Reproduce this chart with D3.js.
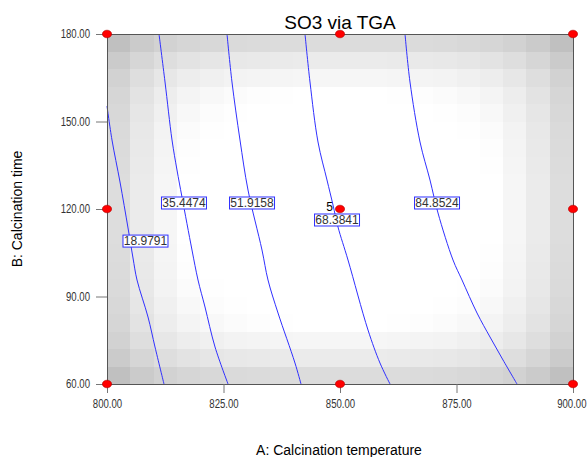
<!DOCTYPE html>
<html>
<head>
<meta charset="utf-8">
<script src="https://cdn.jsdelivr.net/npm/d3@7"></script>
<style>
  html, body { margin: 0; padding: 0; background: #fff; }
  svg { display: block; }
</style>
</head>
<body>
<svg id="chart" width="588" height="457"></svg>
<script>
// ---------- data ----------
const title = "SO3 via TGA";
const xTitle = "A: Calcination temperature";
const yTitle = "B: Calcination time";
const xDomain = [800, 900];
const yDomain = [60, 180];
const xTicks = [800, 825, 850, 875, 900];
const yTicks = [60, 90, 120, 150, 180];
const xTickLabels = ["800.00", "825.00", "850.00", "875.00", "900.00"];
const yTickLabels = ["60.00", "90.00", "120.00", "150.00", "180.00"];

// design points [A, B]
const designPoints = [
  [800, 60], [800, 120], [800, 180],
  [850, 60], [850, 120], [850, 180],
  [900, 60], [900, 120], [900, 180]
];
const centerReplicates = { A: 850, B: 120, n: "5" };

// contour levels and their traced paths [A, B]
const contourLevels = ["18.9791", "35.4474", "51.9158", "68.3841", "84.8524"];
const contour1 = [[800.0,155.3],[801.07,143.66],[802.79,129.26],[804.51,113.49],[805.58,103.2],[806.44,95.66],[808.80,82.97],[810.30,72.69],[812.23,60]];
const contour2 = [[811.16,180],[812.45,163.54],[813.95,143.66],[815.02,133.37],[816.09,124.11],[818.24,105.94],[819.53,95.66],[821.03,86.4],[823.18,72.69],[825.97,60]];
const contour3 = [[825.75,180],[826.82,163.54],[828.54,143.66],[830.26,126.51],[833.26,105.94],[834.55,95.66],[836.70,84.34],[840.34,67.2],[841.63,60]];
const contour4 = [[842.49,180],[843.56,163.54],[845.28,142.97],[847.21,129.94],[848.50,121.37],[849.57,113.83],[851.72,102.51],[856.01,78.51],[858.58,67.2],[860.73,60]];
const contour5 = [[863.95,180],[865.02,163.54],[867.17,142.97],[869.31,129.94],[871.03,118.63],[874.25,102.51],[876.18,95.66],[879.40,84.34],[882.19,76.11],[884.98,68.23],[887.98,60]];
const contourPaths = [contour1, contour2, contour3, contour4, contour5];
// label anchor for each contour [A, B]
const contourLabelAt = [[808.26,109.0],[816.52,122.06],[831.12,122.06],[849.36,116.23],[870.82,122.06]];

// standard-error shading: grey level per cell, one quadrant (edge -> centre), mirrored
const cellStepA = 5, cellStepB = 6;
const shadeQuadrant = [
  [192,203,210,214,216,218,219,220,220,220],
  [203,214,222,227,230,232,233,234,235,235],
  [210,222,231,237,240,243,244,245,246,246],
  [214,227,237,244,248,251,253,254,255,255],
  [216,230,240,248,252,254,255,255,255,255],
  [218,232,243,251,254,255,255,255,255,255],
  [219,233,244,253,255,255,255,255,255,255],
  [220,234,245,254,255,255,255,255,255,255],
  [221,235,246,255,255,255,255,255,255,255],
  [221,235,246,255,255,255,255,255,255,255]
];

// ---------- layout ----------
const plot = { left: 107, right: 573, top: 34, bottom: 384 };
const svg = d3.select("#chart");
const x = d3.scaleLinear().domain(xDomain).range([plot.left, plot.right]);
const y = d3.scaleLinear().domain(yDomain).range([plot.bottom, plot.top]);
const font = "'Liberation Sans', Arial, sans-serif";

// shading cells
const nCols = Math.round((xDomain[1] - xDomain[0]) / cellStepA);
const nRows = Math.round((yDomain[1] - yDomain[0]) / cellStepB);
const cells = [];
for (let r = 0; r < nRows; r++) {
  for (let c = 0; c < nCols; c++) {
    const qi = Math.min(r, nRows - 1 - r);
    const qj = Math.min(c, nCols - 1 - c);
    cells.push({ a0: xDomain[0] + c * cellStepA, b0: yDomain[1] - r * cellStepB, g: shadeQuadrant[qi][qj] });
  }
}
svg.append("g").attr("shape-rendering", "crispEdges")
  .selectAll("rect").data(cells).join("rect")
  .attr("x", d => x(d.a0))
  .attr("y", d => y(d.b0))
  .attr("width", d => x(d.a0 + cellStepA) - x(d.a0) + 0.5)
  .attr("height", d => y(d.b0 - cellStepB) - y(d.b0) + 0.5)
  .attr("fill", d => d3.rgb(d.g, d.g, d.g));

// contour lines
const line = d3.line().x(d => x(d[0])).y(d => y(d[1])).curve(d3.curveCatmullRom.alpha(0.5));
svg.append("g").selectAll("path").data(contourPaths).join("path")
  .attr("d", line)
  .attr("fill", "none")
  .attr("stroke", "#3030ff")
  .attr("stroke-width", 1);

// frame
svg.append("rect")
  .attr("x", plot.left).attr("y", plot.top)
  .attr("width", plot.right - plot.left).attr("height", plot.bottom - plot.top)
  .attr("fill", "none").attr("stroke", "#555").attr("stroke-width", 1)
  .attr("shape-rendering", "crispEdges");

// condensed tick-label look
function condense(sel) {
  sel.each(function() {
    const w = this.getComputedTextLength();
    d3.select(this).attr("textLength", w * 0.8).attr("lengthAdjust", "spacingAndGlyphs");
  });
}

// axes
const xAxis = d3.axisBottom(x).tickValues(xTicks).tickFormat((d, i) => xTickLabels[i]).tickSize(9).tickPadding(6);
const gx = svg.append("g").attr("transform", `translate(0,${plot.bottom})`).call(xAxis);
gx.select(".domain").remove();
gx.selectAll(".tick line").attr("stroke", "#777");
gx.selectAll(".tick text").attr("fill", "#333").style("font-family", font).style("font-size", "12px").call(condense);
// keep the last label inside the window
gx.selectAll(".tick text").filter((d, i) => i === xTicks.length - 1)
  .attr("text-anchor", "end").attr("x", 586 - x(xTicks[xTicks.length - 1]));

const yAxis = d3.axisLeft(y).tickValues(yTicks).tickFormat((d, i) => yTickLabels[i]).tickSize(11).tickPadding(6);
const gy = svg.append("g").attr("transform", `translate(${plot.left},0)`).call(yAxis);
gy.select(".domain").remove();
gy.selectAll(".tick line").attr("stroke", "#777");
gy.selectAll(".tick text").attr("fill", "#333").style("font-family", font).style("font-size", "12px").call(condense);

// contour labels
const labG = svg.append("g").selectAll("g").data(contourLevels).join("g")
  .attr("transform", (d, i) => `translate(${x(contourLabelAt[i][0])},${y(contourLabelAt[i][1])})`);
labG.append("rect")
  .attr("x", -22.5).attr("y", -6)
  .attr("width", 45).attr("height", 12)
  .attr("fill", "#fff").attr("stroke", "#3030ff").attr("stroke-width", 1);
labG.append("text")
  .attr("text-anchor", "middle").attr("dy", "0.36em")
  .style("font-family", font).style("font-size", "12px").attr("fill", "#333")
  .text(d => d);

// design points
svg.append("g").selectAll("ellipse").data(designPoints).join("ellipse")
  .attr("cx", d => x(d[0])).attr("cy", d => y(d[1]))
  .attr("rx", 4.6).attr("ry", 3.8)
  .attr("fill", "#ff0000").attr("stroke", "#b00000").attr("stroke-width", 0.6);

svg.append("text")
  .attr("x", x(centerReplicates.A) - 7).attr("y", y(centerReplicates.B) + 2)
  .attr("text-anchor", "end")
  .style("font-family", font).style("font-size", "12px").attr("fill", "#000")
  .text(centerReplicates.n);

// titles
svg.append("text")
  .attr("x", (plot.left + plot.right) / 2).attr("y", 29)
  .attr("text-anchor", "middle")
  .style("font-family", font).style("font-size", "19px").attr("fill", "#000")
  .text(title);
svg.append("text")
  .attr("x", (plot.left + plot.right) / 2 - 1).attr("y", 455)
  .attr("text-anchor", "middle")
  .style("font-family", font).style("font-size", "14px").attr("fill", "#000")
  .text(xTitle);
svg.append("text")
  .attr("transform", `translate(22,${(plot.top + plot.bottom) / 2}) rotate(-90)`)
  .attr("text-anchor", "middle")
  .style("font-family", font).style("font-size", "14px").attr("fill", "#000")
  .text(yTitle);
</script>
</body>
</html>
